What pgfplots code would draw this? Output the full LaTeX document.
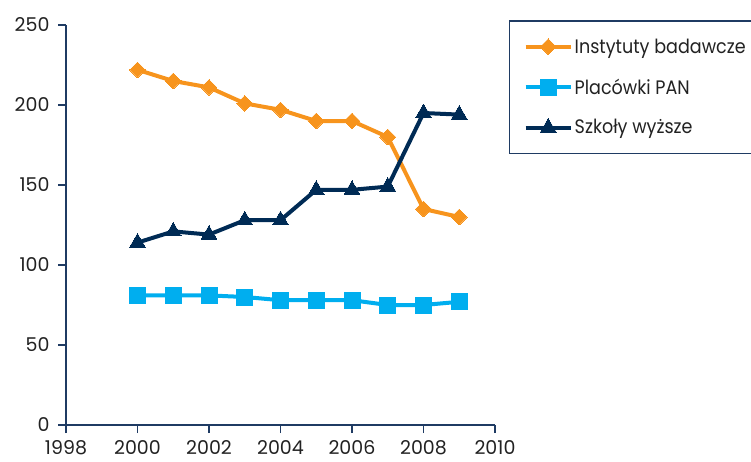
\documentclass[border=0pt]{standalone}
\usepackage{fontspec}
\setmainfont{Poppins}
\usepackage{graphicx}
\usepackage{pgfplots}
\pgfplotsset{compat=1.18}
\definecolor{orangeI}{HTML}{F7941D}
\definecolor{blueP}{HTML}{00AEEF}
\definecolor{navyS}{HTML}{002B55}
\definecolor{axisc}{HTML}{1F3B63}
\definecolor{txt}{HTML}{222222}
% legend text: slightly condensed, in a wide box so the frame runs past the right edge
\newcommand{\lgd}[1]{\makebox[200pt][l]{\scalebox{0.9}[1]{#1}}}
\begin{document}
\begin{tikzpicture}
\begin{axis}[
  at={(66pt,36pt)}, anchor=south west,
  scale only axis, width=429pt, height=400pt,
  xmin=1998, xmax=2010, ymin=0, ymax=250,
  xtick={1998,2000,...,2010}, ytick={0,50,...,250},
  axis x line*=bottom, axis y line*=left,
  axis line style={axisc, line width=1.5pt, -},
  tick style={axisc, line width=1.5pt},
  tick align=outside, major tick length=8pt,
  xticklabel style={/pgf/number format/1000 sep={}, inner ysep=1pt, yshift=-6pt},
  yticklabel style={xshift=-5pt},
  ticklabel style={font=\fontsize{19}{22}\selectfont, text=txt},
  /pgf/number format/assume math mode=true,
  clip=false,
  legend style={at={(1.0326,1.0125)}, anchor=north west,
    draw=axisc, line width=1.5pt, fill=white,
    font=\fontsize{19.5}{22}\selectfont, text=txt,
    inner xsep=14pt, inner ysep=16pt,
    row sep=20pt},
  legend cell align=left,
  legend image code/.code={%
    \draw[mark repeat=2,mark phase=2,#1] plot coordinates {(0pt,0pt) (22.5pt,0pt) (45pt,0pt)};},
]
\addplot[orangeI, line width=4pt, mark=square*, mark size=5.5pt,
  mark options={rotate=45, solid, line width=0pt}]
  coordinates {(2000,222) (2001,215) (2002,211) (2003,201) (2004,197)
    (2005,190) (2006,190) (2007,180) (2008,135) (2009,130)};
\addlegendentry{\lgd{Instytuty badawcze}}
\addplot[blueP, line width=4pt, mark=square*, mark size=8pt,
  mark options={solid, line width=0pt}]
  coordinates {(2000,81) (2001,81) (2002,81) (2003,80) (2004,78)
    (2005,78) (2006,78) (2007,75) (2008,75) (2009,77)};
\addlegendentry{\lgd{Placówki PAN}}
\addplot[navyS, line width=4pt, mark=triangle*, mark size=9pt,
  mark options={solid, line width=0pt}]
  coordinates {(2000,114) (2001,121) (2002,119) (2003,128) (2004,128)
    (2005,147) (2006,147) (2007,149) (2008,195) (2009,194)};
\addlegendentry{\lgd{Szkoły wyższe}}
\end{axis}
\pgfresetboundingbox
\useasboundingbox (0pt,0pt) rectangle (751pt,461pt);
\end{tikzpicture}
\end{document}
